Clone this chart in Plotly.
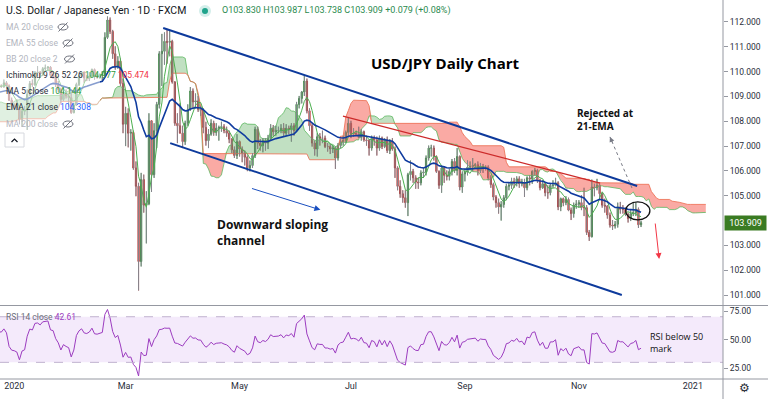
import numpy as np
import pandas as pd
import plotly.graph_objects as go

# ---------------- DATA (USD/JPY daily, FXCM) ----------------
start_date = "2019-09-02"   # first bar (weekday bars)

opens = [
    106.28, 106.22, 105.95, 106.45, 106.98,
    106.92, 107.25, 107.55, 107.82, 108.08,
    108.08, 108.12, 108.15, 108.45, 107.95,
    107.55, 107.55, 107.05, 107.75, 107.78,
    107.92, 108.05, 107.75, 107.18, 106.88,
    106.92, 107.25, 107.08, 107.48, 107.92,
    108.32, 108.38, 108.85, 108.75, 108.65,
    108.42, 108.62, 108.48, 108.70, 108.62,
    108.68, 108.95, 108.88, 108.75, 108.02,
    108.18, 108.62, 109.18, 108.95, 109.28,
    109.25, 109.05, 108.95, 108.82, 108.42,
    108.78, 108.65, 108.55, 108.62, 108.65,
    108.68, 108.95, 109.05, 109.48, 109.52,
    109.48, 108.98, 108.62, 108.85, 108.75,
    108.58, 108.62, 108.72, 108.55, 109.42,
    109.35, 109.55, 109.48, 109.58, 109.38,
    109.45, 109.38, 109.42, 109.40, 109.55,
    109.42, 108.85, 108.65, 108.62, 108.55,
    108.08, 108.40, 108.45, 109.08, 109.52,
    109.48, 109.95, 109.98, 109.90, 110.12,
    110.15, 110.18, 109.85, 109.82, 109.48,
    109.28, 108.88, 109.12, 109.02, 108.95,
    108.35, 108.65, 109.48, 109.82, 109.98,
    109.75, 109.72, 109.82, 110.08, 109.80,
    109.78, 109.85, 109.88, 111.38, 112.08,
    111.62, 110.72, 110.22, 110.42, 109.52,
    107.88, 108.32, 107.52, 107.55, 106.12,
    105.38, 102.35, 105.65, 104.62, 104.68,
    108.02, 105.85, 107.62, 108.68, 110.72,
    110.82, 111.22, 111.18, 111.22, 109.58,
    107.92, 107.82, 107.52, 107.18, 107.92,
    108.48, 109.22, 108.78, 108.82, 108.48,
    108.45, 107.75, 107.22, 107.48, 107.92,
    107.55, 107.72, 107.75, 107.78, 107.62,
    107.52, 107.28, 106.85, 106.62, 107.18,
    106.88, 106.72, 106.55, 106.12, 106.22,
    106.62, 107.68, 107.12, 107.02, 107.22,
    107.12, 107.32, 107.72, 107.58, 107.62,
    107.62, 107.72, 107.52, 107.72, 107.68,
    107.82, 107.62, 108.68, 108.92, 109.18,
    109.62, 108.42, 107.82, 107.12, 106.88,
    107.38, 107.32, 107.32, 106.98, 106.98,
    106.88, 106.92, 106.52, 107.02, 107.18,
    107.22, 107.55, 107.92, 107.48, 107.52,
    107.48, 107.35, 107.58, 107.25, 107.22,
    106.92, 107.32, 107.25, 106.92, 107.32,
    106.98, 107.25, 106.82, 107.18, 106.88,
    106.12, 105.38, 105.08, 104.92, 104.72,
    105.85, 105.98, 105.72, 105.55, 105.52,
    105.92, 105.95, 106.52, 106.92, 106.92,
    106.58, 105.98, 105.42, 106.12, 105.82,
    105.78, 105.98, 106.38, 106.02, 106.58,
    105.35, 105.88, 105.95, 106.15, 106.18,
    106.22, 106.25, 106.02, 106.18, 106.15,
    106.15, 105.72, 105.45, 104.95, 104.72,
    104.55, 104.65, 104.92, 105.38, 105.42,
    105.58, 105.52, 105.68, 105.48, 105.52,
    105.32, 105.72, 105.68, 105.98, 106.02,
    105.62, 105.32, 105.48, 105.12, 105.12,
    105.42, 105.42, 105.52, 104.55, 104.88,
    104.72, 104.85, 104.42, 104.28, 104.62,
    104.66, 104.72, 104.52, 104.52, 103.52,
    103.35, 105.35, 105.32, 105.42, 105.08,
    104.62, 104.58, 104.22, 103.82, 103.78,
    103.85, 104.55, 104.45, 104.45, 104.25,
    104.08, 104.28, 104.32, 104.45, 103.83,
]

highs = [
    106.45, 106.35, 106.52, 107.22, 107.22,
    107.32, 107.62, 107.98, 108.25, 108.25,
    108.35, 108.32, 108.48, 108.48, 108.02,
    107.68, 107.62, 107.82, 107.90, 108.00,
    108.18, 108.45, 107.78, 107.32, 107.15,
    107.32, 107.62, 107.62, 108.00, 108.62,
    108.45, 108.90, 108.95, 108.82, 108.72,
    108.72, 108.68, 108.78, 108.72, 108.78,
    109.02, 109.05, 109.28, 108.92, 108.32,
    108.65, 109.25, 109.22, 109.48, 109.48,
    109.32, 109.18, 109.05, 108.88, 108.85,
    108.92, 108.78, 108.72, 108.75, 108.92,
    109.02, 109.18, 109.55, 109.62, 109.68,
    109.72, 109.02, 108.92, 108.95, 108.92,
    108.72, 108.82, 108.92, 109.70, 109.70,
    109.62, 109.62, 109.72, 109.62, 109.52,
    109.52, 109.48, 109.48, 109.68, 109.62,
    109.48, 108.95, 108.72, 108.88, 108.62,
    108.48, 108.62, 109.28, 109.62, 109.68,
    110.02, 110.22, 110.02, 110.18, 110.28,
    110.22, 110.22, 110.00, 109.88, 109.62,
    109.35, 109.22, 109.28, 109.12, 109.18,
    108.75, 109.55, 109.85, 110.02, 110.00,
    109.85, 109.98, 110.12, 110.12, 109.92,
    109.92, 110.02, 111.58, 112.22, 112.18,
    111.68, 111.02, 110.62, 110.52, 109.72,
    108.58, 108.52, 107.68, 107.62, 106.38,
    105.52, 105.92, 105.85, 105.18, 108.32,
    108.02, 107.92, 108.78, 110.82, 111.52,
    111.58, 111.72, 111.68, 111.28, 109.62,
    108.32, 108.72, 107.82, 108.02, 108.68,
    109.38, 109.32, 109.12, 109.02, 108.62,
    108.52, 107.98, 107.68, 108.08, 108.02,
    107.92, 107.82, 107.98, 107.88, 107.78,
    107.62, 107.32, 106.98, 107.48, 107.22,
    106.98, 106.82, 106.62, 106.42, 106.72,
    107.78, 107.78, 107.28, 107.32, 107.32,
    107.45, 107.88, 107.85, 107.82, 107.78,
    107.88, 107.92, 107.88, 107.82, 107.92,
    107.92, 108.78, 109.02, 109.22, 109.85,
    109.72, 108.52, 107.92, 107.22, 107.52,
    107.52, 107.62, 107.42, 107.12, 107.08,
    107.02, 106.98, 107.12, 107.28, 107.42,
    107.62, 108.15, 108.02, 107.72, 107.62,
    107.78, 107.68, 107.62, 107.42, 107.28,
    107.42, 107.42, 107.38, 107.42, 107.38,
    107.32, 107.38, 107.28, 107.32, 106.98,
    106.18, 105.62, 105.22, 105.22, 105.92,
    106.42, 106.08, 105.82, 105.72, 106.02,
    106.12, 106.62, 107.02, 107.05, 107.02,
    106.62, 106.02, 106.22, 106.18, 106.02,
    106.08, 106.48, 106.52, 106.92, 106.62,
    105.98, 106.08, 106.42, 106.38, 106.52,
    106.32, 106.38, 106.32, 106.28, 106.22,
    106.22, 105.82, 105.52, 105.02, 104.88,
    104.78, 105.02, 105.48, 105.52, 105.72,
    105.72, 105.78, 105.78, 105.68, 105.68,
    105.78, 105.82, 106.02, 106.12, 106.08,
    105.68, 105.62, 105.52, 105.42, 105.48,
    105.62, 105.72, 105.58, 104.92, 104.92,
    104.98, 104.92, 104.52, 104.72, 104.82,
    104.82, 105.02, 105.32, 104.62, 103.62,
    105.65, 105.48, 105.68, 105.48, 105.12,
    104.88, 104.62, 104.32, 104.02, 103.98,
    104.72, 104.75, 104.62, 104.52, 104.32,
    104.42, 104.75, 104.72, 104.52, 103.987,
]

lows = [
    106.10, 105.75, 105.90, 106.40, 106.80,
    106.85, 107.12, 107.40, 107.60, 107.92,
    107.88, 108.00, 108.02, 107.70, 107.48,
    107.30, 106.95, 107.00, 107.55, 107.65,
    107.80, 107.68, 107.02, 106.48, 106.68,
    106.85, 106.98, 106.95, 107.30, 107.88,
    108.18, 108.25, 108.62, 108.48, 108.28,
    108.38, 108.40, 108.42, 108.48, 108.50,
    108.62, 108.75, 108.62, 107.92, 107.88,
    108.10, 108.55, 108.82, 108.88, 109.05,
    108.92, 108.82, 108.62, 108.25, 108.38,
    108.55, 108.38, 108.25, 108.32, 108.52,
    108.62, 108.82, 108.98, 109.35, 109.35,
    108.92, 108.45, 108.45, 108.62, 108.48,
    108.45, 108.52, 108.42, 108.48, 109.02,
    109.28, 109.42, 109.42, 109.18, 109.25,
    109.28, 109.30, 109.35, 109.35, 109.32,
    108.82, 108.48, 108.55, 108.45, 107.88,
    107.78, 108.25, 107.65, 109.02, 109.38,
    109.42, 109.82, 109.75, 109.82, 110.02,
    110.02, 109.75, 109.72, 109.38, 109.18,
    108.72, 108.82, 108.92, 108.58, 108.30,
    108.32, 108.62, 109.42, 109.75, 109.55,
    109.62, 109.62, 109.78, 109.68, 109.72,
    109.72, 109.62, 109.82, 111.32, 111.52,
    110.52, 110.08, 110.12, 109.42, 107.52,
    107.00, 106.95, 106.82, 106.05, 104.98,
    101.18, 102.15, 104.32, 103.08, 104.62,
    105.15, 105.72, 106.92, 108.52, 109.42,
    110.28, 110.32, 110.62, 109.52, 107.82,
    107.12, 107.52, 106.92, 107.05, 107.82,
    108.42, 108.52, 108.52, 108.38, 108.22,
    107.52, 107.02, 106.92, 107.42, 107.42,
    107.42, 107.22, 107.58, 107.52, 107.38,
    107.12, 106.72, 106.52, 106.48, 106.58,
    106.35, 106.22, 105.99, 105.98, 106.12,
    106.52, 106.88, 106.82, 106.75, 106.82,
    106.88, 107.22, 107.42, 107.42, 107.52,
    107.52, 107.38, 107.42, 107.48, 107.18,
    107.42, 107.58, 108.52, 108.72, 109.02,
    108.32, 107.62, 106.98, 106.62, 106.58,
    107.02, 107.12, 106.92, 106.78, 106.68,
    106.72, 106.08, 106.42, 106.92, 107.02,
    107.12, 107.42, 107.32, 107.38, 107.42,
    107.32, 107.22, 107.18, 107.02, 106.62,
    106.82, 107.02, 106.62, 106.82, 106.88,
    106.92, 106.72, 106.68, 106.82, 105.72,
    105.22, 104.92, 104.72, 104.52, 104.18,
    105.62, 105.52, 105.28, 105.28, 105.42,
    105.72, 105.82, 106.42, 106.58, 106.42,
    105.92, 105.28, 105.12, 105.52, 105.62,
    105.62, 105.82, 105.92, 105.82, 105.22,
    105.12, 105.58, 105.82, 106.02, 105.98,
    106.12, 105.82, 105.92, 105.92, 106.02,
    105.62, 105.32, 104.82, 104.52, 104.28,
    104.00, 104.52, 104.82, 105.22, 105.28,
    105.32, 105.38, 105.32, 105.38, 104.95,
    105.22, 105.42, 105.48, 105.82, 105.52,
    105.22, 105.28, 104.98, 104.88, 105.02,
    105.32, 105.38, 104.42, 104.38, 104.58,
    104.62, 104.38, 104.02, 104.12, 104.48,
    104.52, 104.42, 104.18, 103.42, 103.18,
    103.32, 104.98, 105.22, 104.82, 104.52,
    104.32, 104.08, 103.72, 103.62, 103.68,
    103.72, 104.28, 104.28, 104.18, 103.92,
    103.98, 104.18, 104.18, 103.70, 103.738,
]

closes = [
    106.22, 105.95, 106.45, 106.98, 106.92,
    107.25, 107.55, 107.82, 108.08, 108.08,
    108.12, 108.15, 108.45, 107.95, 107.55,
    107.55, 107.05, 107.75, 107.78, 107.92,
    108.05, 107.75, 107.18, 106.88, 106.92,
    107.25, 107.08, 107.48, 107.92, 108.32,
    108.38, 108.85, 108.75, 108.65, 108.42,
    108.62, 108.48, 108.70, 108.62, 108.68,
    108.95, 108.88, 108.75, 108.02, 108.18,
    108.62, 109.18, 108.95, 109.28, 109.25,
    109.05, 108.95, 108.82, 108.42, 108.78,
    108.65, 108.55, 108.62, 108.65, 108.68,
    108.95, 109.05, 109.48, 109.52, 109.48,
    108.98, 108.62, 108.85, 108.75, 108.58,
    108.62, 108.72, 108.55, 109.42, 109.35,
    109.55, 109.48, 109.58, 109.38, 109.45,
    109.38, 109.42, 109.40, 109.55, 109.42,
    108.85, 108.65, 108.62, 108.55, 108.08,
    108.40, 108.45, 109.08, 109.52, 109.48,
    109.95, 109.98, 109.90, 110.12, 110.15,
    110.18, 109.85, 109.82, 109.48, 109.28,
    108.88, 109.12, 109.02, 108.95, 108.35,
    108.65, 109.48, 109.82, 109.98, 109.75,
    109.72, 109.82, 110.08, 109.80, 109.78,
    109.85, 109.88, 111.38, 112.08, 111.62,
    110.72, 110.22, 110.42, 109.52, 107.88,
    108.32, 107.52, 107.55, 106.12, 105.38,
    102.35, 105.65, 104.62, 104.68, 108.02,
    105.85, 107.62, 108.68, 110.72, 110.82,
    111.22, 111.18, 111.22, 109.58, 107.92,
    107.82, 107.52, 107.18, 107.92, 108.48,
    109.22, 108.78, 108.82, 108.48, 108.45,
    107.75, 107.22, 107.48, 107.92, 107.55,
    107.72, 107.75, 107.78, 107.62, 107.52,
    107.28, 106.85, 106.62, 107.18, 106.88,
    106.72, 106.55, 106.12, 106.22, 106.62,
    107.68, 107.12, 107.02, 107.22, 107.12,
    107.32, 107.72, 107.58, 107.62, 107.62,
    107.72, 107.52, 107.72, 107.68, 107.82,
    107.62, 108.68, 108.92, 109.18, 109.62,
    108.42, 107.82, 107.12, 106.88, 107.38,
    107.32, 107.32, 106.98, 106.98, 106.88,
    106.92, 106.52, 107.02, 107.18, 107.22,
    107.55, 107.92, 107.48, 107.52, 107.48,
    107.35, 107.58, 107.25, 107.22, 106.92,
    107.32, 107.25, 106.92, 107.32, 106.98,
    107.25, 106.82, 107.18, 106.88, 106.12,
    105.38, 105.08, 104.92, 104.72, 105.85,
    105.98, 105.72, 105.55, 105.52, 105.92,
    105.95, 106.52, 106.92, 106.92, 106.58,
    105.98, 105.42, 106.12, 105.82, 105.78,
    105.98, 106.38, 106.02, 106.58, 105.35,
    105.88, 105.95, 106.15, 106.18, 106.22,
    106.25, 106.02, 106.18, 106.15, 106.15,
    105.72, 105.45, 104.95, 104.72, 104.55,
    104.65, 104.92, 105.38, 105.42, 105.58,
    105.52, 105.68, 105.48, 105.52, 105.32,
    105.72, 105.68, 105.98, 106.02, 105.62,
    105.32, 105.48, 105.12, 105.12, 105.42,
    105.42, 105.52, 104.55, 104.88, 104.72,
    104.85, 104.42, 104.28, 104.62, 104.66,
    104.72, 104.52, 104.52, 103.52, 103.35,
    105.35, 105.32, 105.42, 105.08, 104.62,
    104.58, 104.22, 103.82, 103.78, 103.85,
    104.55, 104.45, 104.45, 104.25, 104.08,
    104.28, 104.32, 104.45, 103.83, 103.909,
]

# 104.000 is hidden behind the last-price tag in the reference
price_ticks = [101, 102, 103, 105, 106, 107, 108, 109, 110, 111, 112]
rsi_ticks = [25, 50, 75]
x_tick_dates = ["2020-01-01", "2020-03-02", "2020-05-01", "2020-07-01",
                "2020-09-01", "2020-11-02", "2021-01-01"]
x_tick_labels = ["2020", "Mar", "May", "Jul", "Sep", "Nov", "2021"]

# drawings (date, price)
upper_channel = [("2020-03-20 12:00", 111.76), ("2020-12-02 12:00", 105.39)]
lower_channel = [("2020-03-25 05:00", 107.12), ("2020-11-24 14:00", 101.00)]
red_trend = [("2020-06-25 22:00", 108.21), ("2020-11-12 05:00", 105.51)]
blue_arrow = [("2020-05-07 05:00", 105.31), ("2020-06-15 05:00", 104.43)]
dash_arrow = [("2020-11-30 12:00", 105.31), ("2020-11-18 00:00", 107.37)]
red_arrow = [("2020-12-11 10:00", 103.94), ("2020-12-15 00:00", 102.45)]
ellipse_box = [("2020-11-26 02:00", 104.03), ("2020-12-09 10:00", 104.75)]

# ---------------- INDICATORS ----------------
dates = pd.bdate_range(start_date, periods=len(closes))
fdates = pd.bdate_range(start_date, periods=len(closes) + 25)
df = pd.DataFrame({"o": opens, "h": highs, "l": lows, "c": closes}, index=dates)

ma5 = df.c.rolling(5).mean()
ema21 = df.c.ewm(span=21, adjust=False).mean()
tenkan = (df.h.rolling(9).max() + df.l.rolling(9).min()) / 2
kijun = (df.h.rolling(26).max() + df.l.rolling(26).min()) / 2
lead_a = ((tenkan + kijun) / 2).values
lead_b = ((df.h.rolling(52).max() + df.l.rolling(52).min()) / 2).values
A = np.concatenate([np.full(25, np.nan), lead_a])
B = np.concatenate([np.full(25, np.nan), lead_b])
valid = ~np.isnan(A) & ~np.isnan(B)
fx = fdates[valid]
A = A[valid]
B = B[valid]

delta = df.c.diff()
gain = delta.clip(lower=0)
loss = -delta.clip(upper=0)
avg_g = gain.ewm(alpha=1 / 14, adjust=False).mean()
avg_l = loss.ewm(alpha=1 / 14, adjust=False).mean()
rsi = 100 - 100 / (1 + avg_g / avg_l)

# wick segments (low-high per bar)
wx, wy = [], []
for d, lo, hi in zip(dates, df.l, df.h):
    wx += [d, d, None]
    wy += [lo, hi, None]

# ---------------- FIGURE ----------------
PW, PH = 723.0, 379.0


def px(x):
    return x / PW


def py(y):
    return (PH - y) / PH


UI = "Roboto, Arial, sans-serif"
fig = go.Figure()

# Ichimoku cloud
fig.add_trace(go.Scatter(x=fx, y=B, mode="lines", line=dict(width=0), hoverinfo="skip"))
fig.add_trace(go.Scatter(x=fx, y=np.maximum(A, B), mode="lines", line=dict(width=0),
                         fill="tonexty", fillcolor="rgba(67,160,71,0.33)", hoverinfo="skip"))
fig.add_trace(go.Scatter(x=fx, y=B, mode="lines", line=dict(width=0), hoverinfo="skip"))
fig.add_trace(go.Scatter(x=fx, y=np.minimum(A, B), mode="lines", line=dict(width=0),
                         fill="tonexty", fillcolor="rgba(244,67,54,0.45)", hoverinfo="skip"))
fig.add_trace(go.Scatter(x=fx, y=A, mode="lines", line=dict(color="#5cb860", width=0.8)))
fig.add_trace(go.Scatter(x=fx, y=B, mode="lines", line=dict(color="#ec6a4c", width=0.8)))

# wicks then bodies
fig.add_trace(go.Scatter(x=wx, y=wy, mode="lines", line=dict(color="#85878e", width=1),
                         connectgaps=False, hoverinfo="skip"))
fig.add_trace(go.Candlestick(
    x=dates, open=df.o, high=df.h, low=df.l, close=df.c,
    increasing=dict(line=dict(color="#23802a", width=0.8), fillcolor="#23802a"),
    decreasing=dict(line=dict(color="#b5201e", width=0.8), fillcolor="#b5201e"),
    whiskerwidth=0, xaxis="x", yaxis="y"))

fig.add_trace(go.Scatter(x=dates, y=ma5, mode="lines", line=dict(color="#4caf50", width=1)))
fig.add_trace(go.Scatter(x=dates, y=ema21, mode="lines", line=dict(color="#0f3b9f", width=1.6)))

fig.add_trace(go.Scatter(x=dates, y=rsi, mode="lines", line=dict(color="#9c3cc0", width=1),
                         xaxis="x", yaxis="y2"))

shapes = []
# RSI band
shapes.append(dict(type="rect", xref="paper", yref="y2", x0=0, x1=1, y0=30, y1=70,
                   fillcolor="#f4eafb", line=dict(width=0), layer="below"))
for lvl in (30, 70):
    shapes.append(dict(type="line", xref="paper", yref="y2", x0=0, x1=1, y0=lvl, y1=lvl,
                       line=dict(color="#c0b2cf", width=1, dash="dash")))
AX = "#9598a1"
shapes.append(dict(type="line", xref="paper", yref="paper", x0=0, x1=768 / PW,
                   y0=py(305.5), y1=py(305.5), line=dict(color=AX, width=1)))
shapes.append(dict(type="line", xref="paper", yref="paper", x0=0, x1=768 / PW,
                   y0=py(379), y1=py(379), line=dict(color=AX, width=1)))
shapes.append(dict(type="line", xref="paper", yref="paper", x0=1, x1=1,
                   y0=py(0), y1=py(399), line=dict(color=AX, width=1)))

# faded area behind the indicator legend
shapes.append(dict(type="rect", xref="paper", yref="paper", x0=0, x1=px(100),
                   y0=py(130), y1=py(19), fillcolor="rgba(255,255,255,0.5)", line=dict(width=0)))

# drawings
for seg, col, w in ((upper_channel, "#0d3a9c", 2), (lower_channel, "#0d3a9c", 2),
                    (red_trend, "#cc2a2a", 1.2)):
    shapes.append(dict(type="line", xref="x", yref="y", x0=seg[0][0], y0=seg[0][1],
                       x1=seg[1][0], y1=seg[1][1], line=dict(color=col, width=w)))
shapes.append(dict(type="line", xref="x", yref="y", x0=dash_arrow[0][0], y0=dash_arrow[0][1],
                   x1=dash_arrow[1][0], y1=dash_arrow[1][1],
                   line=dict(color="#787b86", width=1, dash="dot")))
shapes.append(dict(type="circle", xref="x", yref="y", x0=ellipse_box[0][0], y0=ellipse_box[0][1],
                   x1=ellipse_box[1][0], y1=ellipse_box[1][1], line=dict(color="#111111", width=1.3)))

# legend eye icons
EYE = "#6f727d"
for cx, cy in ((63, 27), (68, 43), (69.5, 59), (68, 124)):
    shapes.append(dict(type="circle", xref="paper", yref="paper", x0=px(cx - 5), x1=px(cx + 5),
                       y0=py(cy + 3), y1=py(cy - 3), line=dict(color=EYE, width=1)))
    shapes.append(dict(type="line", xref="paper", yref="paper", x0=px(cx - 4.5), x1=px(cx + 4.5),
                       y0=py(cy + 4.5), y1=py(cy - 4.5), line=dict(color=EYE, width=1)))
# collapse button
shapes.append(dict(type="rect", xref="paper", yref="paper", x0=px(5), x1=px(24),
                   y0=py(147), y1=py(133), line=dict(color="#d6d8de", width=1), fillcolor="white"))
shapes.append(dict(type="path", xref="paper", yref="paper",
                   path=f"M {px(11.5)} {py(142)} L {px(14.5)} {py(139)} L {px(17.5)} {py(142)}",
                   line=dict(color="#131722", width=1.2)))
# status dot
shapes.append(dict(type="circle", xref="paper", yref="paper", x0=px(199), x1=px(211),
                   y0=py(17), y1=py(5), fillcolor="rgba(34,171,148,0.2)", line=dict(width=0)))
shapes.append(dict(type="circle", xref="paper", yref="paper", x0=px(202), x1=px(208),
                   y0=py(14), y1=py(8), fillcolor="#1fa38b", line=dict(width=0)))

ann = []


def text(x, y, s, size, color="#131722", family=UI, anchor="left"):
    ann.append(dict(xref="paper", yref="paper", x=px(x), y=py(y), text=s, showarrow=False,
                    xanchor=anchor, yanchor="middle", align="left",
                    font=dict(size=size, color=color, family=family)))


GREY = "#b2b5be"
text(4, 11, "U.S. Dollar / Japanese Yen · 1D · FXCM", 10.5, "#131722")
text(220, 11, "O103.830 H103.987 L103.738 C103.909 +0.079 (+0.08%)", 9, "#2a8a4e")
text(4, 27, "MA 20 close", 8.5, GREY)
text(4, 43, "EMA 55 close", 8.5, GREY)
text(4, 59, "BB 20 close 2", 8.5, GREY)
text(4, 75, "Ichimoku 9 26 52 26 <span style='color:#2e9a3a'>104.977</span> "
            "<span style='color:#f23645'>105.474</span>", 8.5, "#2a2e39")
text(4, 91, "MA 5 close <span style='color:#2e9a3a'>104.144</span>", 8.5, "#2a2e39")
text(4, 107, "EMA 21 close <span style='color:#2962ff'>104.308</span>", 8.5, "#2a2e39")
text(4, 124, "MA 200 close", 8.5, GREY)
text(4, 317, "RSI 14 close <span style='color:#9c3cc0'>42.61</span>", 8.5, "#6a6d78")

TF = "Open Sans, Arial, sans-serif"
text(369, 63, "<b>USD/JPY Daily Chart</b>", 15, "#000000", TF)
text(215, 232, "<b>Downward sloping<br>channel</b>", 12, "#111111", TF)
text(575, 119, "<b>Rejected at<br>21-EMA</b>", 10, "#111111", TF)
text(648, 342, "RSI below 50<br>mark", 9, "#111111", TF)
text(745, 388, "⚙", 12, "#2a2e39", "DejaVu Sans", "center")

# arrows
ann.append(dict(xref="x", yref="y", axref="x", ayref="y", x=blue_arrow[1][0], y=blue_arrow[1][1],
                ax=blue_arrow[0][0], ay=blue_arrow[0][1], text="", showarrow=True,
                arrowhead=2, arrowsize=1.2, arrowwidth=1, arrowcolor="#1a4fc0"))
ann.append(dict(xref="x", yref="y", axref="x", ayref="y", x=red_arrow[1][0], y=red_arrow[1][1],
                ax=red_arrow[0][0], ay=red_arrow[0][1], text="", showarrow=True,
                arrowhead=2, arrowsize=1.2, arrowwidth=1, arrowcolor="#f23645"))
ann.append(dict(xref="x", yref="y", x=dash_arrow[1][0], y=dash_arrow[1][1], ax=3, ay=7,
                text="", showarrow=True, arrowhead=2, arrowsize=1, arrowwidth=1,
                arrowcolor="#787b86"))
# last price tag
ann.append(dict(xref="paper", yref="y", x=1, y=closes[-1], xanchor="left", xshift=1,
                text=f"{closes[-1]:.3f}", showarrow=False, bgcolor="#3a7b22", width=37,
                borderpad=2, font=dict(size=9, color="white", family=UI)))

fig.update_layout(
    width=768, height=399, margin=dict(l=0, r=45, t=0, b=20),
    paper_bgcolor="white", plot_bgcolor="white", showlegend=False,
    hovermode=False, shapes=shapes, annotations=ann,
    xaxis=dict(type="date", range=["2019-12-24 12:00", "2021-01-18 15:30"],
               rangebreaks=[dict(bounds=["sat", "mon"])], rangeslider=dict(visible=False),
               anchor="y2", showgrid=False, zeroline=False, showline=False, ticks="",
               automargin=False,
               tickvals=x_tick_dates, ticktext=x_tick_labels,
               tickfont=dict(size=9, color="#2a2e39", family=UI)),
    yaxis=dict(domain=[1 - 305 / PH, 1], range=[100.597, 112.886], side="right", anchor="x",
               showgrid=False, zeroline=False, showline=False, ticks="outside", ticklen=4,
               automargin=False,
               tickcolor=AX, tickvals=price_ticks, ticktext=[f"{v:.3f}" for v in price_ticks],
               tickfont=dict(size=8.5, color="#2a2e39", family=UI)),
    yaxis2=dict(domain=[0, 73 / PH], range=[15.4, 79.4], side="right", anchor="x",
                showgrid=False, zeroline=False, showline=False, ticks="outside", ticklen=4,
                automargin=False,
                tickcolor=AX, tickvals=rsi_ticks, ticktext=[f"{v:.2f}" for v in rsi_ticks],
                tickfont=dict(size=8.5, color="#2a2e39", family=UI)),
)

fig.write_html("out.html", config={"displayModeBar": False},
               post_script="document.body.style.margin='0';")
